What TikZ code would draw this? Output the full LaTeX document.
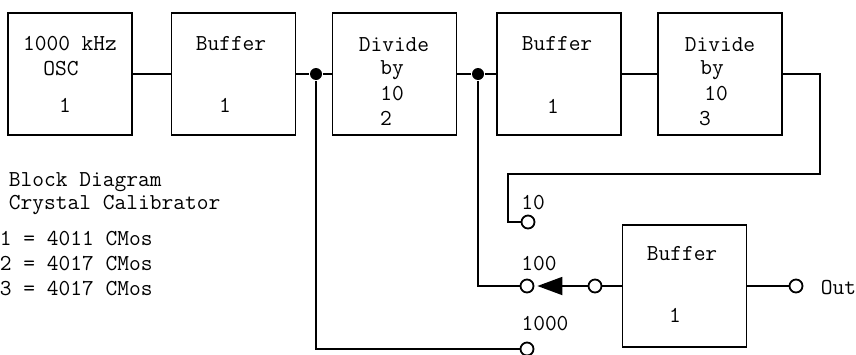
\documentclass[tikz,border=0pt]{standalone}
\usepackage{fontspec}
\usetikzlibrary{arrows.meta}

\tikzset{
	blk/.style={draw, line width=0.9pt, minimum width=62pt, minimum height=61pt, inner sep=0pt},
	txt/.style={inner sep=0pt, text height=7pt, text depth=0pt},
	term/.style={circle, draw, line width=0.9pt, fill=white, inner sep=0pt, minimum size=6.5pt},
	jdot/.style={circle, fill, inner sep=0pt, minimum size=6pt}
}

\begin{document}
\begin{tikzpicture}[x=0.5pt, y=-0.5pt, line width=0.9pt, font=\fontsize{11.4pt}{13pt}\selectfont\ttfamily]
	\useasboundingbox (0,0) rectangle (856,354);
	% blocks
	\node[blk] (osc) at (70,74) {};
	\node[blk] (bufa) at (233.5,74) {};
	\node[blk] (diva) at (394.5,74) {};
	\node[blk] (bufb) at (559,74) {};
	\node[blk] (divb) at (720,74) {};
	\node[blk] (bufo) at (684.5,286) {};
	% block texts
	\node[txt] (osct) at (70,43) {1000 kHz};
	\node[txt] (oscs) at (61,68) {OSC};
	\node[txt] (oscn) at (65,105) {1};
	\node[txt] (bufat) at (231,43) {Buffer};
	\node[txt] (bufan) at (225,105) {1};
	\node[txt] (divat) at (394,44) {Divide};
	\node[txt] (divab) at (392,67) {by};
	\node[txt] (divaf) at (392,93) {10};
	\node[txt] (divan) at (386,118) {2};
	\node[txt] (bufbt) at (557,43) {Buffer};
	\node[txt] (bufbn) at (553,106) {1};
	\node[txt] (divbt) at (720,44) {Divide};
	\node[txt] (divbb) at (712,67) {by};
	\node[txt] (divbf) at (716,93) {10};
	\node[txt] (divbn) at (705,118) {3};
	\node[txt] (bufot) at (682,253) {Buffer};
	\node[txt] (bufon) at (675,315) {1};
	% legend
	\node[txt, anchor=west] (lga) at (8,179) {Block Diagram};
	\node[txt, anchor=west] (lgb) at (8,202) {Crystal Calibrator};
	\node[txt, anchor=west] (lgc) at (-1,238) {1 = 4011 CMos};
	\node[txt, anchor=west] (lgd) at (-1,263) {2 = 4017 CMos};
	\node[txt, anchor=west] (lge) at (-1,288) {3 = 4017 CMos};
	% junctions and terminals
	\node[jdot] (ja) at (316,74) {};
	\node[jdot] (jb) at (478,74) {};
	\node[term] (tten) at (528,222) {};
	\node[term] (thun) at (527,286) {};
	\node[term] (tthou) at (527,349) {};
	\node[term] (tin) at (595,286) {};
	\node[term] (tout) at (796,286) {};
	\coordinate (ka) at (820,174);
	\coordinate (kb) at (508,174);
	\node[txt] (lten) at (533,202) {10};
	\node[txt] (lhun) at (539,263) {100};
	\node[txt] (lthou) at (545,323) {1000};
	\node[txt, anchor=west] (lout) at (820,287) {Out};
	% wiring
	\draw (osc.east) -- (bufa.west);
	\draw (bufa.east) -- (ja) -- (diva.west);
	\draw (diva.east) -- (jb) -- (bufb.west);
	\draw (bufb.east) -- (divb.west);
	\draw (divb.east) -| (ka) -- (kb) |- (tten);
	\draw (jb) |- (thun);
	\draw (ja) |- (tthou);
	\draw[-{Triangle[length=12.5pt,width=9pt]}, shorten >=1.5pt] (tin) -- (thun);
	\draw (tin) -- (bufo.west);
	\draw (bufo.east) -- (tout);
\end{tikzpicture}
\end{document}
